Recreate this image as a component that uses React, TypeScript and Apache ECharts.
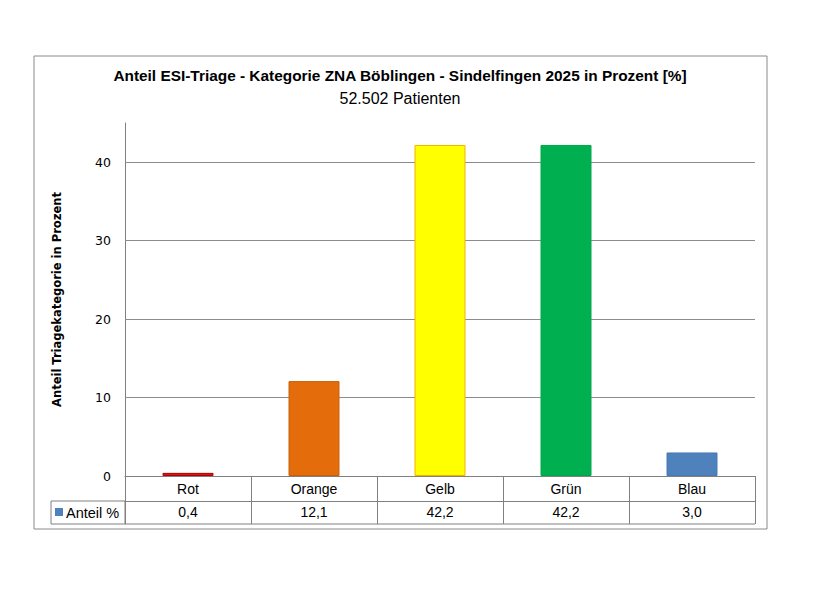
import React, { useEffect, useRef } from "react";
import * as echarts from "echarts";

const categories = ["Rot", "Orange", "Gelb", "Grün", "Blau"];
const values = [0.4, 12.1, 42.2, 42.2, 3.0];
const gridTicks = [10, 20, 30, 40];
const titleText = "Anteil ESI-Triage - Kategorie ZNA Böblingen - Sindelfingen 2025 in Prozent [%]";
const subTitleText = "52.502 Patienten";
const yAxisName = "Anteil Triagekategorie in Prozent";
const seriesName = "Anteil %";

const barColors = ["#d9141c", "#e46c0a", "#ffff00", "#00b050", "#4f81bd"];
const barBorders = ["#b00000", "#c9600a", "#f0b400", "#00a84a", "#4a7ab5"];

const fmt = (v: number) => v.toFixed(1).replace(".", ",");

export default function App() {
  const ref = useRef<HTMLDivElement>(null);
  useEffect(() => {
    document.body.style.margin = "0";
    const chart = echarts.init(ref.current!, null, { renderer: "svg" });
    const textFont = "Liberation Sans";
    const axisFont = "DejaVu Sans";
    chart.setOption({
      animation: false,
      backgroundColor: "#ffffff",
      grid: { left: 125, right: 70, top: 123, bottom: 119, containLabel: false },
      xAxis: [
        {
          type: "category",
          data: categories,
          position: "bottom",
          axisLine: { show: true, lineStyle: { color: "#808080", width: 1 } },
          axisTick: { show: true, length: 48, lineStyle: { color: "#808080" }, alignWithLabel: false },
          axisLabel: { margin: 6, color: "#000", fontSize: 14, fontFamily: textFont },
          splitLine: { show: false },
        },
        {
          type: "category",
          data: categories,
          position: "bottom",
          offset: 25,
          axisLine: { show: true, lineStyle: { color: "#808080", width: 1 } },
          axisTick: { show: false },
          axisLabel: {
            margin: 4,
            color: "#000",
            fontSize: 14,
            fontFamily: textFont,
            formatter: (_: string, i: number) => fmt(values[i]),
          },
        },
      ],
      yAxis: {
        type: "value",
        min: 0,
        max: 45,
        interval: 10,
        name: yAxisName,
        nameLocation: "middle",
        nameGap: 62,
        nameRotate: 90,
        nameTextStyle: { fontFamily: axisFont, fontWeight: "bold", fontSize: 11.5, color: "#000" },
        axisLine: { show: true, lineStyle: { color: "#808080" } },
        axisTick: { show: false },
        axisLabel: { showMaxLabel: false, margin: 14, color: "#000", fontSize: 12.5, fontFamily: axisFont },
        splitLine: { show: false },
      },
      series: [
        {
          type: "bar",
          name: seriesName,
          barWidth: 51,
          data: values.map((v, i) => ({
            value: v,
            itemStyle: { color: barColors[i], borderColor: barBorders[i], borderWidth: 1 },
          })),
          markLine: {
            silent: true,
            symbol: "none",
            label: { show: false },
            lineStyle: { color: "#8c8c8c", type: "solid", width: 1 },
            data: gridTicks.map((t) => ({ yAxis: t })),
            z: 1,
          },
          z: 3,
        },
      ],
      graphic: [
        {
          type: "rect",
          shape: { x: 34, y: 56, width: 733, height: 473 },
          style: { fill: "none", stroke: "#8a8a8a", lineWidth: 1 },
          silent: true,
        },
        {
          type: "text",
          x: 400,
          y: 75,
          style: {
            text: titleText,
            fontFamily: textFont,
            fontWeight: "bold",
            fontSize: 15.4,
            fill: "#000",
            textAlign: "center",
            textVerticalAlign: "middle",
          },
        },
        {
          type: "text",
          x: 400,
          y: 98,
          style: {
            text: subTitleText,
            fontFamily: textFont,
            fontSize: 16,
            fill: "#000",
            textAlign: "center",
            textVerticalAlign: "middle",
          },
        },
        {
          type: "rect",
          shape: { x: 51, y: 501, width: 74, height: 23 },
          style: { fill: "none", stroke: "#808080", lineWidth: 1 },
          silent: true,
        },
        {
          type: "line",
          shape: { x1: 125, y1: 524, x2: 755, y2: 524 },
          style: { stroke: "#808080", lineWidth: 1 },
          silent: true,
        },
        {
          type: "rect",
          shape: { x: 55, y: 508, width: 8, height: 8 },
          style: { fill: "#4f81bd" },
          silent: true,
        },
        {
          type: "text",
          x: 66,
          y: 512.5,
          style: {
            text: seriesName,
            fontFamily: textFont,
            fontSize: 14.5,
            fill: "#000",
            textVerticalAlign: "middle",
          },
        },
      ],
    });
    return () => chart.dispose();
  }, []);
  return <div ref={ref} style={{ width: 825, height: 595 }} />;
}
